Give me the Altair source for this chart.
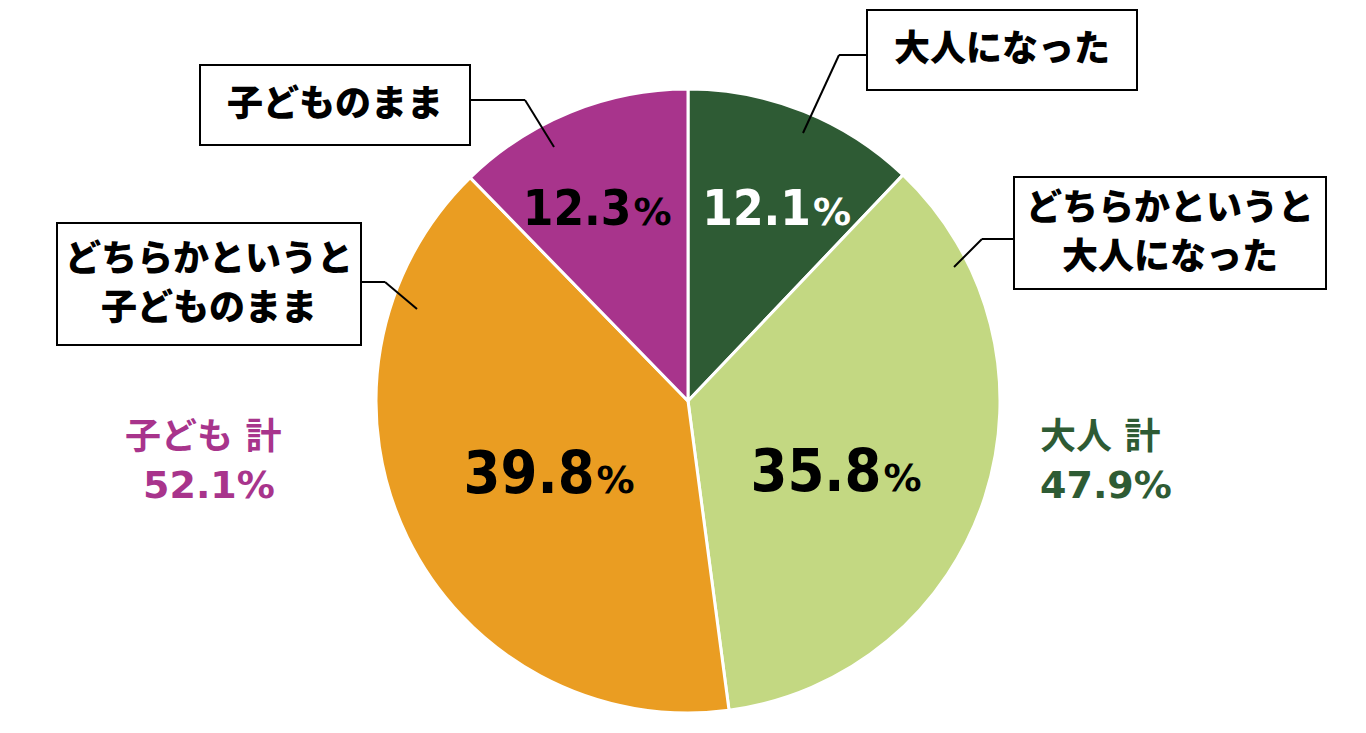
import altair as alt
import pandas as pd

categories = ["大人になった", "どちらかというと大人になった", "どちらかというと子どものまま", "子どものまま"]
values = [12.1, 35.8, 39.8, 12.3]
colors = ["#2E5B34", "#C3D882", "#EA9D22", "#A8348C"]
value_text_colors = ["white", "black", "black", "black"]

group_labels = ["大人 計", "子ども 計"]
group_values = ["47.9%", "52.1%"]
group_colors = ["#2E5B34", "#A8348C"]

df = pd.DataFrame({
    "cat": categories,
    "value": values,
    "order": list(range(len(categories))),
    "num": [f"{v:.1f}" for v in values],
    "tcol": value_text_colors,
})

W, H = 1350, 717
CX, CY, R = 680, 393, 312
JP = "Noto Sans CJK JP"
NUMF = "DejaVu Sans Condensed, DejaVu Sans"

base = alt.Chart(df)

pie = base.mark_arc(outerRadius=R, stroke="white", strokeWidth=3).encode(
    theta=alt.Theta("value:Q", stack=True),
    order=alt.Order("order:Q"),
    color=alt.Color("cat:N", scale=alt.Scale(domain=categories, range=colors), legend=None),
    x=alt.value(CX), y=alt.value(CY),
)

lab = base.transform_joinaggregate(total="sum(value)").transform_window(
    cum="sum(value)", sort=[alt.SortField("order")], frame=[None, 0]
).transform_calculate(
    mid="(datum.cum - datum.value/2) / datum.total * 2 * PI",
    small="datum.value < 20",
).transform_calculate(
    px=f"{CX} + (datum.small ? 240 : 155) * sin(datum.mid)",
    py=f"{CY} - (datum.small ? 208 : 16) * cos(datum.mid) + (datum.small ? 0 : 64)",
).transform_calculate(
    ax="datum.px + (datum.small ? 34 : 46)",
    by="datum.py + (datum.small ? 17 : 21)",
)

num_small = lab.transform_filter("datum.small").mark_text(
    font=NUMF, fontWeight="bold", fontSize=49, align="right", baseline="alphabetic"
).encode(
    x=alt.X("ax:Q", scale=None), y=alt.Y("by:Q", scale=None),
    text="num:N", color=alt.Color("tcol:N", scale=None),
)
num_big = lab.transform_filter("!datum.small").mark_text(
    font=NUMF, fontWeight="bold", fontSize=59, align="right", baseline="alphabetic"
).encode(
    x=alt.X("ax:Q", scale=None), y=alt.Y("by:Q", scale=None),
    text="num:N", color=alt.Color("tcol:N", scale=None),
)
pct = lab.mark_text(
    font="DejaVu Sans", fontWeight="bold", fontSize=38, align="left", baseline="alphabetic", dx=2
).encode(
    x=alt.X("ax:Q", scale=None), y=alt.Y("by:Q", scale=None),
    text=alt.value("%"), color=alt.Color("tcol:N", scale=None),
)

# callout boxes (chart coordinates)
boxes = [
    (859, 2, 1129, 82),
    (1006, 169, 1318, 281),
    (192, 57, 462, 137),
    (49, 215, 353, 337),
]
box_text = [
    ["大人になった"],
    ["どちらかというと", "大人になった"],
    ["子どものまま"],
    ["どちらかというと", "子どものまま"],
]
leaders = [
    [(795, 125), (831, 47), (859, 47)],
    [(946, 259), (974, 231), (1006, 231)],
    [(546, 139), (517, 92), (462, 92)],
    [(409, 301), (377, 274), (353, 274)],
]

one = alt.Chart(pd.DataFrame({"a": [0]}))
layers = [pie]
for (x1, y1, x2, y2), lines, pts in zip(boxes, box_text, leaders):
    layers.append(one.mark_rect(fill="white", stroke="black", strokeWidth=2).encode(
        x=alt.value(x1), x2=alt.value(x2), y=alt.value(y1), y2=alt.value(y2)))
    cx = (x1 + x2) / 2
    cy = (y1 + y2) / 2
    n = len(lines)
    lh = 49
    for i, t in enumerate(lines):
        ty = cy + (i - (n - 1) / 2) * lh
        layers.append(one.mark_text(font=JP, fontWeight=900, fontSize=36,
                                    align="center", baseline="middle", color="black").encode(
            x=alt.value(cx), y=alt.value(ty), text=alt.value(t)))
    for (ax, ay), (bx, by) in zip(pts[:-1], pts[1:]):
        layers.append(one.mark_rule(color="black", strokeWidth=2).encode(
            x=alt.value(ax), y=alt.value(ay), x2=alt.value(bx), y2=alt.value(by)))

# group totals
gpos = [((1032, 430), (1032, 479)), ((117, 430), (135, 479))]
for lbl, val, col, ((lx, ly), (vx, vy)) in zip(group_labels, group_values, group_colors, gpos):
    layers.append(one.mark_text(font="DejaVu Sans, " + JP, fontWeight="bold", fontSize=36,
                                align="left", baseline="middle", color=col).encode(
        x=alt.value(lx), y=alt.value(ly), text=alt.value(lbl)))
    layers.append(one.mark_text(font="DejaVu Sans", fontWeight="bold", fontSize=38,
                                align="left", baseline="middle", color=col).encode(
        x=alt.value(vx), y=alt.value(vy), text=alt.value(val)))

layers += [num_small, num_big, pct]

chart = alt.layer(*layers).properties(
    width=W, height=H, padding=0, autosize=alt.AutoSizeParams(type="none"),
).configure_view(stroke=None)

chart.save("out.html", embed_options={"renderer": "svg", "actions": False})
